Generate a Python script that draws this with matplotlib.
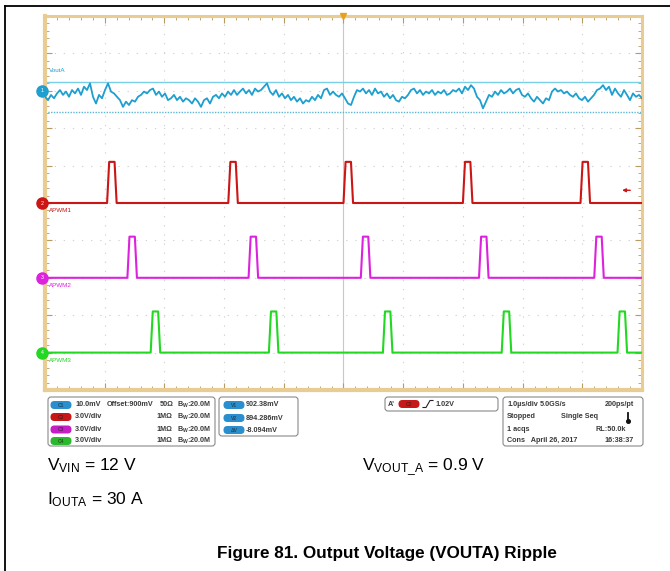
import numpy as np
import matplotlib
matplotlib.use("Agg")
import matplotlib.pyplot as plt
from matplotlib.patches import FancyBboxPatch

plt.rcParams['font.family'] = ['Liberation Sans', 'DejaVu Sans']
plt.rcParams['mathtext.fontset'] = 'custom'
plt.rcParams['mathtext.rm'] = 'Liberation Sans'
plt.rcParams['mathtext.it'] = 'Liberation Sans'
plt.rcParams['mathtext.bf'] = 'Liberation Sans:bold'

# ---------------- data ----------------
# Channel 1 (VoutA) ripple, mV, 200 samples across the 10 us record
vouta_mv = [
    898.4, 897.5, 898.9, 898.0, 899.3, 900.2, 898.9, 899.8, 898.4, 900.2,
    899.3, 900.6, 898.9, 901.1, 900.2, 902.0, 898.4, 896.6, 898.9, 898.0,
    900.2, 902.0, 899.8, 899.3, 898.4, 897.5, 895.7, 897.1, 896.2, 897.5,
    897.1, 898.4, 898.9, 899.8, 899.3, 900.2, 900.6, 898.9, 899.8, 898.4,
    899.3, 897.5, 898.0, 898.9, 897.5, 898.4, 897.1, 898.0, 897.5, 896.6,
    898.0, 897.1, 895.7, 897.5, 898.0, 896.6, 898.4, 898.9, 898.0, 899.3,
    898.4, 899.8, 898.9, 900.2, 898.9, 899.8, 900.6, 899.3, 900.2, 898.9,
    900.6, 899.8, 900.2, 901.1, 902.0, 899.8, 898.9, 900.2, 898.4, 899.3,
    898.0, 898.9, 897.5, 898.4, 897.1, 898.0, 896.6, 897.5, 897.1, 898.4,
    897.5, 898.9, 898.0, 900.2, 900.6, 898.9, 899.8,
    898.9, 898.4, 899.3, 898.0, 896.6, 896.2, 898.4, 900.2, 899.8, 900.6,
    899.3, 900.2, 898.9, 900.6, 899.3, 899.8, 898.4, 899.3, 898.0, 898.9,
    897.5, 897.1, 898.4, 898.0, 898.9, 900.2, 900.6, 899.3, 900.2, 898.9,
    899.8, 899.3, 900.2, 898.9, 899.8, 899.3, 900.2, 898.9, 899.3, 900.2,
    899.8, 900.6, 899.3, 901.1, 900.2, 901.5, 900.6, 898.4, 897.5, 895.3,
    897.1, 898.9, 898.4, 899.8, 898.9, 900.2, 899.3, 899.8, 900.6, 899.3,
    900.2, 900.6, 898.9, 898.4, 899.3, 898.0, 897.1, 898.4, 897.5, 896.6,
    898.0, 897.5, 899.8, 900.6, 899.8, 900.2, 899.3, 899.8, 898.9, 898.4,
    899.3, 898.0, 897.5, 898.4, 897.1, 898.0, 898.9, 900.2, 900.6, 901.5,
    900.2, 901.1, 898.9, 900.6, 899.3, 898.4, 900.2, 898.9, 897.5, 899.3,
    898.4, 898.9, 898.0,
]
# PWM rising-edge times (us) and pulse data
apwm1_edges = [-3.96, -1.93, 0.0, 2.0, 3.97]
apwm2_edges = [-3.62, -1.59, 0.29, 2.27, 4.20]
apwm3_edges = [-3.23, -1.25, 0.66, 2.65, 4.59]
pulse_width_us = 0.16
pulse_high_v = 3.3
cursor_v1_mv = 902.38
cursor_v2_mv = 894.286
trigger_level_v = 1.02

ch_rows = [("C1", "10.0mV", "Offset:900mV", "50Ω"),
           ("C2", "3.0V/div", "", "1MΩ"),
           ("C3", "3.0V/div", "", "1MΩ"),
           ("C4", "3.0V/div", "", "1MΩ")]
cursor_rows = [("V1", "902.38mV"), ("V2", "894.286mV"), ("ΔV", "-8.094mV")]

# ---------------- style ----------------
C_CYAN = '#1d9fd0'
C_RED = '#cc1515'
C_MAG = '#dd22dd'
C_GRN = '#22d822'
C_CURS = '#79cfe6'
TAN = '#e9cc92'
TICK = '#b89a62'

W, H = 670, 571
fig = plt.figure(figsize=(6.7, 5.71), dpi=100)

ov = fig.add_axes([0, 0, 1, 1])
ov.set_xlim(0, W)
ov.set_ylim(H, 0)
ov.axis('off')

# ---------------- scope screen ----------------
x0, x1, y0, y1 = 45, 642, 16, 390
ax = fig.add_axes([x0 / W, 1 - y1 / H, (x1 - x0) / W, (y1 - y0) / H])
ax.set_xlim(-5, 5)
ax.set_ylim(-5, 5)
ax.set_xticks(np.arange(-5, 6, 1))
ax.set_yticks(np.arange(-5, 6, 1))
ax.set_xticks(np.arange(-5, 5.01, 0.2), minor=True)
ax.set_yticks(np.arange(-5, 5.01, 0.2), minor=True)
ax.tick_params(which='both', direction='in', top=True, right=True,
               labelbottom=False, labelleft=False, color=TICK)
ax.tick_params(which='major', length=5, width=0.8)
ax.tick_params(which='minor', length=3, width=0.6)
for s in ax.spines.values():
    s.set_color(TAN)
    s.set_linewidth(2.2)
ax.spines['left'].set_linewidth(3)
ax.spines['bottom'].set_linewidth(3)

for k in range(-4, 5):
    if k == 0:
        continue
    ax.axvline(k, color='#d2d2d2', lw=0.8, ls=(0, (1.2, 7)), zorder=0)
    ax.axhline(k, color='#d2d2d2', lw=0.8, ls=(0, (1.2, 7)), zorder=0)
ax.axvline(0, color='#c8c8c8', lw=0.8, zorder=0)
ax.axhline(0, color='#d2d2d2', lw=0.8, ls=(0, (1.2, 7)), zorder=0)

def ch1_div(mv):
    return 3.0 + (np.asarray(mv) - 900.0) / 10.0

ax.axhline(ch1_div(cursor_v1_mv), color=C_CURS, lw=1.0, zorder=1)
ax.axhline(ch1_div(cursor_v2_mv), color='#5cb6d4', lw=1.0, ls=(0, (1, 1)), zorder=1)

t = np.linspace(-5, 5, len(vouta_mv))
ax.plot(t, ch1_div(vouta_mv), color=C_CYAN, lw=1.3, zorder=3)

def pulse_train(edges, width, high):
    tt, vv = [-5.0], [0.0]
    r = 0.035
    for e in edges:
        tt += [e, e + r, e + width - r, e + width]
        vv += [0.0, high, high, 0.0]
    tt.append(5.0)
    vv.append(0.0)
    return np.array(tt), np.array(vv)

for edges, pos, col in [(apwm1_edges, 0.0, C_RED),
                        (apwm2_edges, -2.0, C_MAG),
                        (apwm3_edges, -4.0, C_GRN)]:
    tt, vv = pulse_train(edges, pulse_width_us, pulse_high_v)
    ax.plot(tt, pos + vv / 3.0, color=col, lw=1.5, zorder=3)

ax.text(-4.93, 3.55, "VoutA", color=C_CYAN, fontsize=4.5, va='center')
ax.text(-4.93, -0.2, "APWM1", color=C_RED, fontsize=4.5, va='center')
ax.text(-4.93, -2.2, "APWM2", color=C_MAG, fontsize=4.5, va='center')
ax.text(-4.93, -4.2, "APWM3", color=C_GRN, fontsize=4.5, va='center')

for pos, col, lab in [(3.0, C_CYAN, "1"), (0.0, C_RED, "2"),
                      (-2.0, C_MAG, "3"), (-4.0, C_GRN, "4")]:
    ax.plot([-5.05], [pos], marker='o', ms=8, color=col, clip_on=False, zorder=5)
    ax.text(-5.05, pos, lab, color='white', fontsize=3.8, ha='center',
            va='center', clip_on=False, zorder=6)
ax.plot([0], [5.0], marker='v', ms=5, color='#e8a020', clip_on=False, zorder=6)
ax.annotate("", xy=(4.62, trigger_level_v / 3.0), xytext=(4.85, trigger_level_v / 3.0),
            arrowprops=dict(arrowstyle='-|>', color=C_RED, lw=1.0,
                            mutation_scale=5))

# ---------------- outer frame ----------------
ov.plot([5, W], [6, 6], color='black', lw=1.3)
ov.plot([5, 5], [6, H], color='black', lw=1.3)

# ---------------- info panel ----------------
def box(xa, ya, xb, yb):
    ov.add_patch(FancyBboxPatch((xa, ya), xb - xa, yb - ya,
                                boxstyle="round,pad=0,rounding_size=3",
                                fc='white', ec='#8a8a8a', lw=0.8, zorder=2))

def badge(xc, yc, col, lab, w=21, h=8):
    ov.add_patch(FancyBboxPatch((xc - w / 2, yc - h / 2), w, h,
                                boxstyle="round,pad=0,rounding_size=3.9",
                                fc=col, ec='none', zorder=3))
    ov.text(xc, yc + 0.3, lab, color='#1a1a1a', fontsize=3.6, ha='center',
            va='center', zorder=4, fontweight='bold', alpha=0.6)

TXT = dict(fontsize=5.2, color='#3a3a3a', fontweight='bold', va='center', zorder=4)

box(48, 397, 215, 446)
badge_cols = ['#2a8fcc', '#c61818', '#c41fc4', '#2cb82c']
ys = [405, 417, 429.5, 441]
for (c, a, b, imp), col, yy in zip(ch_rows, badge_cols, ys):
    badge(61, yy, col, c)
    ov.text(75, yy, a, **TXT)
    if b:
        ov.text(107, yy, b, **TXT)
    ov.text(174 if imp == "50Ω" else 172, yy, imp, ha='right', **TXT)
    ov.text(177, yy, r"B$_\mathregular{W}$:20.0M", **TXT)

box(219, 397, 298, 436)
for (c, v), yy in zip(cursor_rows, [405, 418, 430]):
    badge(234, yy, '#2a8fcc', c)
    ov.text(246, yy, v, **TXT)

box(385, 397, 498, 411)
ov.text(388, 404, "A'", **TXT)
badge(409, 404, '#c61818', "C2")
ov.plot([423, 426, 430, 433], [407.5, 407.5, 400.5, 400.5], color='#222', lw=0.8, zorder=4)
ov.text(435, 404, "1.02V", **TXT)

box(503, 397, 643, 446)
ov.text(507, 405, "1.0µs/div", **TXT)
ov.text(540, 405, "5.0GS/s", **TXT)
ov.text(634, 405, "200ps/pt", ha='right', **TXT)
ov.text(507, 417, "Stopped", **TXT)
ov.text(561, 417, "Single Seq", **TXT)
ov.plot([627.5, 627.5], [413, 420], color='#111', lw=1.3, zorder=4)
ov.plot([627.5], [420.5], marker='o', ms=2.6, color='#111', zorder=4)
ov.text(507, 429.5, "1 acqs", **TXT)
ov.text(626, 429.5, "RL:50.0k", ha='right', **TXT)
ov.text(507, 441, "Cons   April 26, 2017", **TXT)
ov.text(634, 441, "16:38:37", ha='right', **TXT)

# ---------------- captions ----------------
CAP = dict(fontsize=12.5, color='black', va='baseline')
ov.text(47, 470, r"V$_\mathregular{VIN}$ = 12 V", **CAP)
ov.text(362, 470, r"V$_\mathregular{VOUT\_A}$ = 0.9 V", **CAP)
ov.text(47, 504, r"I$_\mathregular{OUTA}$ = 30 A", **CAP)
ov.text(387, 558, "Figure 81. Output Voltage (VOUTA) Ripple", fontsize=12.3,
        fontweight='bold', ha='center', va='baseline', color='black')

fig.savefig("out.png", dpi=100)
